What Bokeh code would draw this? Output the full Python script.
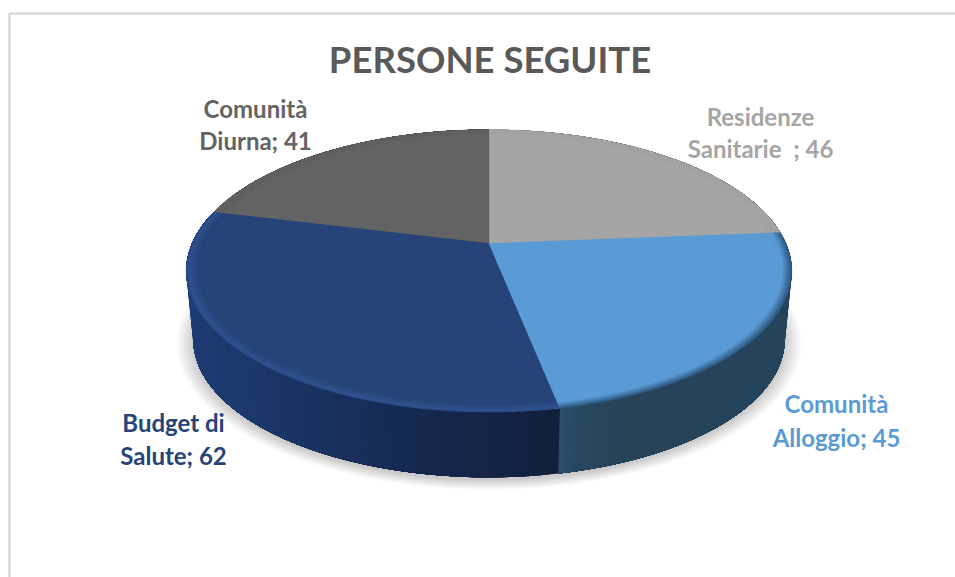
import numpy as np
from bokeh.embed import file_html
from bokeh.models import ColumnDataSource, Range1d
from bokeh.plotting import figure
from bokeh.resources import INLINE
from bokeh.core.properties import value

title_text = "PERSONE SEGUITE"
categories = ["Residenze Sanitarie", "Comunità Alloggio", "Budget di Salute", "Comunità Diurna"]
values = [46, 45, 62, 41]
label_lines = [["Residenze", "Sanitarie \u00a0; 46"], ["Comunità", "Alloggio; 45"],
               ["Budget di", "Salute; 62"], ["Comunità", "Diurna; 41"]]
slice_colors = ["#a5a5a5", "#5b9bd5", "#264478", "#636363"]
label_colors = ["#a5a5a5", "#5b9bd5", "#264478", "#636363"]

FONT = "Lato"
W, H = 955, 577
CX, CY, A, B, K = 488.5, 243.0, 136.0, 297.0, 0.194
BASE_Y, BASE_S = 312.0, 0.977
label_x = [760, 836, 173, 255]
label_y = [116, 403, 422, 108]
LINE_GAP = [32, 34, 33, 32]


def top_xy(theta, r=1.0):
    u, v = r * np.sin(theta), r * np.cos(theta)
    d = 1 + K * v
    return CX + B * u / d, CY - A * v / d


def base_xy(theta, grow=0.0, dy=0.0):
    u, v = np.sin(theta), np.cos(theta)
    d = 1 + K * v
    s = BASE_S + grow
    return CX + s * B * u / d, BASE_Y + dy - s * A * v / d


def rgb(h):
    return np.array([int(h[i:i + 2], 16) for i in (1, 3, 5)], float)


def lerp_hex(x, xs, cols):
    arr = np.array([rgb(c) for c in cols])
    c = [np.interp(x, xs, arr[:, i]) for i in range(3)]
    return "#%02x%02x%02x" % tuple(int(round(v)) for v in c)


p = figure(width=W, height=H, output_backend="svg", toolbar_location=None,
           x_range=Range1d(0, W), y_range=Range1d(H, 0),
           min_border=0, outline_line_color=None, background_fill_color="white",
           border_fill_color="white")
p.xaxis.visible = False
p.yaxis.visible = False
p.grid.visible = False

# frame of the chart area (only top and left reach the picture)
p.line([9, 9, W], [H, 13, 13], line_color="#d9d9d9", line_width=2.5)

# soft shadow
t_all = np.linspace(0, 2 * np.pi, 241)
for g in np.linspace(0.055, 0.0, 13):
    x, y = base_xy(t_all, grow=g, dy=3)
    p.patch(list(x), list(y), fill_color="black", fill_alpha=0.014, line_color=None)

# slice limits
fractions = np.cumsum([0] + values) / sum(values) * 2 * np.pi

# side wall: each band is painted to the end of its slice, so no seams appear
side_profile = {
    1: ([556, 572, 620, 790], ["#2e5270", "#294a64", "#264358", "#25445c"]),
    2: ([186, 300, 420, 556], ["#1e3c74", "#1a3364", "#15294e", "#12203c"]),
    0: ([700, 800], ["#6e6e6e", "#6e6e6e"]),
    3: ([180, 300], ["#444444", "#444444"]),
}
for i in range(4):
    th = np.linspace(fractions[i], fractions[i + 1], 90)
    for a in th[:-1]:
        seg = np.linspace(a, fractions[i + 1], 60)
        xt, yt = top_xy(seg)
        xb, yb = base_xy(seg)
        col = lerp_hex(top_xy(a)[0], *side_profile[i])
        p.patch(list(xt) + list(xb[::-1]), list(yt) + list(yb[::-1]),
                fill_color=col, line_color=None)

# top surface with a soft bevelled rim
rim_profile = {
    0: ([0, 1], ["#a5a5a5", "#a5a5a5"]),
    1: ([0, 0.2, 0.7, 1], ["#2f5a80", "#3a6c99", "#5b9bd5", "#5b9bd5"]),
    2: ([0, 0.2, 0.6, 1], ["#294a86", "#31538f", "#2a4a82", "#264478"]),
    3: ([0, 1], ["#636363", "#636363"]),
}
levels = np.linspace(0, 1, 12)
for t in levels:
    r = 1 - 0.042 * t
    for i in [0, 3, 2, 1]:
        th = np.linspace(fractions[i], fractions[i + 1], 160)
        x, y = top_xy(th, r)
        col = lerp_hex(t, *rim_profile[i])
        p.patch([CX] + list(x), [CY] + list(y), fill_color=col, line_color=col, line_width=0.4)

# title
p.text([489.5], [58], text=[title_text], text_font=value(FONT), text_font_style="bold",
       text_font_size="36.5px", text_color="#595959", text_align="center", text_baseline="middle")

# data labels
rows = {"x": [], "y": [], "t": [], "c": []}
for i in range(4):
    for j, line in enumerate(label_lines[i]):
        rows["x"].append(label_x[i])
        rows["y"].append(label_y[i] + j * LINE_GAP[i])
        rows["t"].append(line)
        rows["c"].append(label_colors[i])
p.text("x", "y", text="t", text_color="c", source=ColumnDataSource(rows),
       text_font=value(FONT), text_font_style="bold", text_font_size="24px",
       text_align="center", text_baseline="middle")

open("out.html", "w").write(file_html(p, INLINE))
